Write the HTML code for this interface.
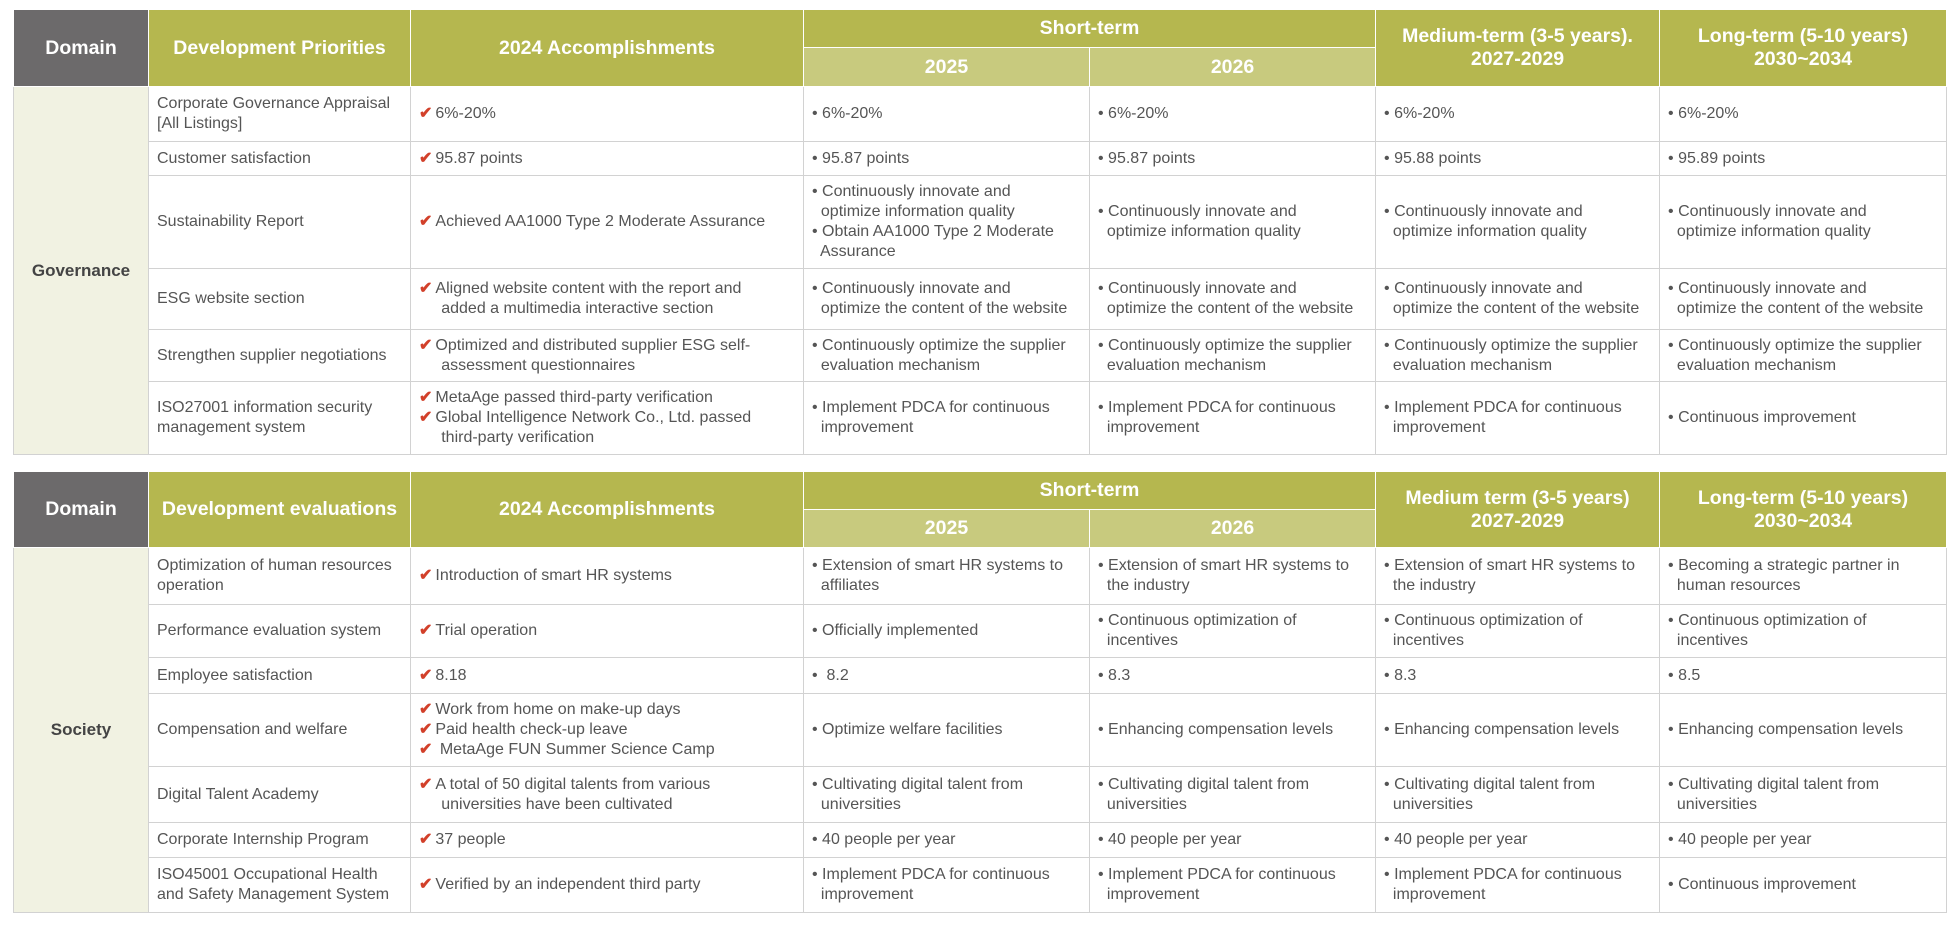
<!DOCTYPE html>
<html><head><meta charset="utf-8"><style>
body{margin:0;width:1956px;height:936px;background:#fff;position:relative;overflow:hidden;font-family:"Liberation Sans",sans-serif;}
table{position:absolute;left:13px;border-collapse:collapse;table-layout:fixed;width:1933px;}
td,th{border:1px solid #d2d2d2;padding:0 8px;font-size:16px;color:#555;line-height:20px;vertical-align:middle;text-align:left;overflow:hidden;}
th{color:#fff;font-size:19.5px;line-height:23px;font-weight:bold;text-align:center;border:1px solid #fff;background:#b5b74f;}
th.dk{background:#6c6a6b;}
th.lt{background:#c8ca7e;}
td.dom{background:#f1f2e2;font-weight:bold;font-size:17px;color:#444;text-align:center;}
.c{color:#d2402a;font-weight:bold;margin-right:3px;}
</style></head><body>
<table style="top:9px">
<colgroup><col style="width:135px"><col style="width:262px"><col style="width:393px"><col style="width:286px"><col style="width:286px"><col style="width:284px"><col style="width:287px"></colgroup>
<tr style="height:38px"><th class="dk" rowspan="2">Domain</th><th rowspan="2">Development Priorities</th><th rowspan="2">2024 Accomplishments</th><th colspan="2">Short-term</th><th rowspan="2">Medium-term (3-5 years).<br>2027-2029</th><th rowspan="2">Long-term (5-10 years)<br>2030~2034</th></tr>
<tr style="height:39px"><th class="lt">2025</th><th class="lt">2026</th></tr>
<tr style="height:55px"><td class="dom" rowspan="6">Governance</td><td>Corporate Governance Appraisal<br>[All Listings]</td><td><span class="c">✔</span>6%-20%</td><td>• 6%-20%</td><td>• 6%-20%</td><td>• 6%-20%</td><td>• 6%-20%</td></tr>
<tr style="height:34px"><td>Customer satisfaction</td><td><span class="c">✔</span>95.87 points</td><td>• 95.87 points</td><td>• 95.87 points</td><td>• 95.88 points</td><td>• 95.89 points</td></tr>
<tr style="height:93px"><td>Sustainability Report</td><td><span class="c">✔</span>Achieved AA1000 Type 2 Moderate Assurance</td><td>• Continuously innovate and<br>&nbsp; optimize information quality<br>• Obtain AA1000 Type 2 Moderate<br>&nbsp; Assurance</td><td>• Continuously innovate and<br>&nbsp; optimize information quality</td><td>• Continuously innovate and<br>&nbsp; optimize information quality</td><td>• Continuously innovate and<br>&nbsp; optimize information quality</td></tr>
<tr style="height:61px"><td>ESG website section</td><td><span class="c">✔</span>Aligned website content with the report and<br>&nbsp;&nbsp;&nbsp;&nbsp; added a multimedia interactive section</td><td>• Continuously innovate and<br>&nbsp; optimize the content of the website</td><td>• Continuously innovate and<br>&nbsp; optimize the content of the website</td><td>• Continuously innovate and<br>&nbsp; optimize the content of the website</td><td>• Continuously innovate and<br>&nbsp; optimize the content of the website</td></tr>
<tr style="height:52px"><td>Strengthen supplier negotiations</td><td><span class="c">✔</span>Optimized and distributed supplier ESG self-<br>&nbsp;&nbsp;&nbsp;&nbsp; assessment questionnaires</td><td>• Continuously optimize the supplier<br>&nbsp; evaluation mechanism</td><td>• Continuously optimize the supplier<br>&nbsp; evaluation mechanism</td><td>• Continuously optimize the supplier<br>&nbsp; evaluation mechanism</td><td>• Continuously optimize the supplier<br>&nbsp; evaluation mechanism</td></tr>
<tr style="height:73px"><td>ISO27001 information security<br>management system</td><td><span class="c">✔</span>MetaAge passed third-party verification<br><span class="c">✔</span>Global Intelligence Network Co., Ltd. passed<br>&nbsp;&nbsp;&nbsp;&nbsp; third-party verification</td><td>• Implement PDCA for continuous<br>&nbsp; improvement</td><td>• Implement PDCA for continuous<br>&nbsp; improvement</td><td>• Implement PDCA for continuous<br>&nbsp; improvement</td><td>• Continuous improvement</td></tr>
</table>
<table style="top:471px">
<colgroup><col style="width:135px"><col style="width:262px"><col style="width:393px"><col style="width:286px"><col style="width:286px"><col style="width:284px"><col style="width:287px"></colgroup>
<tr style="height:38px"><th class="dk" rowspan="2">Domain</th><th rowspan="2">Development evaluations</th><th rowspan="2">2024 Accomplishments</th><th colspan="2">Short-term</th><th rowspan="2">Medium term (3-5 years)<br>2027-2029</th><th rowspan="2">Long-term (5-10 years)<br>2030~2034</th></tr>
<tr style="height:38px"><th class="lt">2025</th><th class="lt">2026</th></tr>
<tr style="height:57px"><td class="dom" rowspan="7">Society</td><td>Optimization of human resources<br>operation</td><td><span class="c">✔</span>Introduction of smart HR systems</td><td>• Extension of smart HR systems to<br>&nbsp; affiliates</td><td>• Extension of smart HR systems to<br>&nbsp; the industry</td><td>• Extension of smart HR systems to<br>&nbsp; the industry</td><td>• Becoming a strategic partner in<br>&nbsp; human resources</td></tr>
<tr style="height:53px"><td>Performance evaluation system</td><td><span class="c">✔</span>Trial operation</td><td>• Officially implemented</td><td>• Continuous optimization of<br>&nbsp; incentives</td><td>• Continuous optimization of<br>&nbsp; incentives</td><td>• Continuous optimization of<br>&nbsp; incentives</td></tr>
<tr style="height:36px"><td>Employee satisfaction</td><td><span class="c">✔</span>8.18</td><td>•&nbsp; 8.2</td><td>• 8.3</td><td>• 8.3</td><td>• 8.5</td></tr>
<tr style="height:73px"><td>Compensation and welfare</td><td><span class="c">✔</span>Work from home on make-up days<br><span class="c">✔</span>Paid health check-up leave<br><span class="c">✔</span> MetaAge FUN Summer Science Camp</td><td>• Optimize welfare facilities</td><td>• Enhancing compensation levels</td><td>• Enhancing compensation levels</td><td>• Enhancing compensation levels</td></tr>
<tr style="height:56px"><td>Digital Talent Academy</td><td><span class="c">✔</span>A total of 50 digital talents from various<br>&nbsp;&nbsp;&nbsp;&nbsp; universities have been cultivated</td><td>• Cultivating digital talent from<br>&nbsp; universities</td><td>• Cultivating digital talent from<br>&nbsp; universities</td><td>• Cultivating digital talent from<br>&nbsp; universities</td><td>• Cultivating digital talent from<br>&nbsp; universities</td></tr>
<tr style="height:35px"><td>Corporate Internship Program</td><td><span class="c">✔</span>37 people</td><td>• 40 people per year</td><td>• 40 people per year</td><td>• 40 people per year</td><td>• 40 people per year</td></tr>
<tr style="height:55px"><td>ISO45001 Occupational Health<br>and Safety Management System</td><td><span class="c">✔</span>Verified by an independent third party</td><td>• Implement PDCA for continuous<br>&nbsp; improvement</td><td>• Implement PDCA for continuous<br>&nbsp; improvement</td><td>• Implement PDCA for continuous<br>&nbsp; improvement</td><td>• Continuous improvement</td></tr>
</table>
</body></html>
